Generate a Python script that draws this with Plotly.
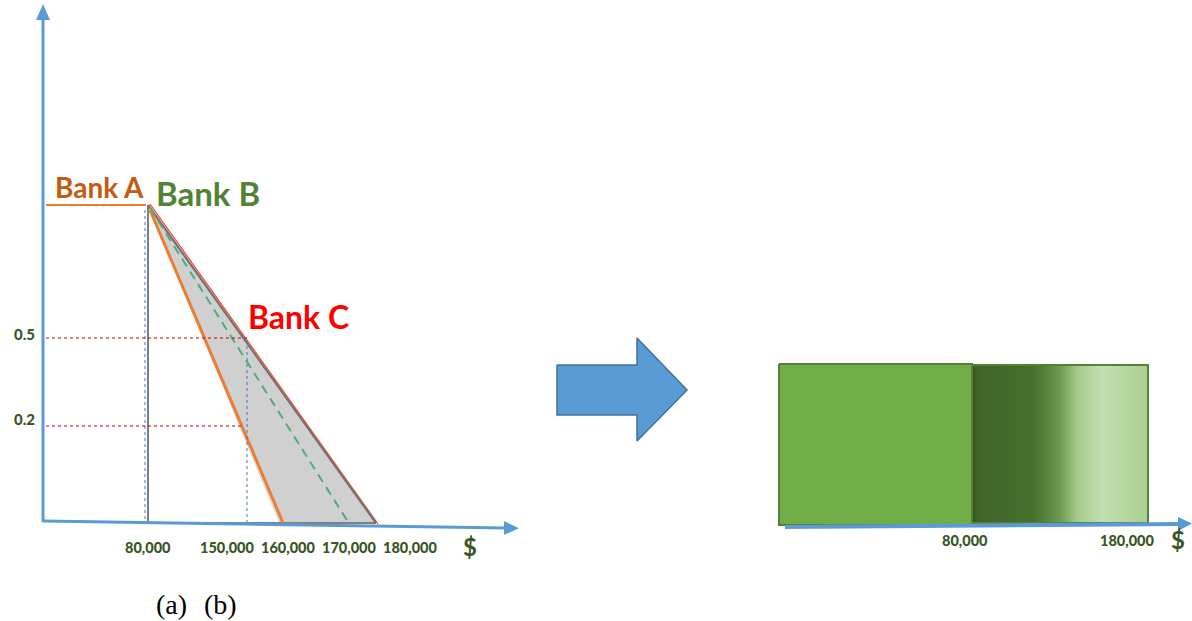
import plotly.graph_objects as go

W, H = 1192, 621

# ---------- left panel (canvas units, y grows downward) ----------
yaxis_line_x = [43, 43]
yaxis_line_y = [522, 16]
yarrow_x = [36, 50, 43, 36]
yarrow_y = [20, 20, 4, 20]
xaxis_line_x = [43, 506]
xaxis_line_y = [521, 528]
xarrow_x = [504, 519, 504, 504]
xarrow_y = [521, 528.3, 535, 521]

bank_a_flat_x = [46, 146]
bank_a_flat_y = [205, 205]
bank_a_slope_x = [150, 283]
bank_a_slope_y = [210, 523]

band_x = [148, 376, 283, 150, 148]
band_y = [205, 523, 523, 211, 205]
halo_x = [151, 279, 287, 152]
halo_y = [212, 523, 523, 212]

tri_x = [148, 148, 376]
tri_y = [205, 523, 523]
hyp_x = [148, 376]
hyp_y = [205, 523]
bank_c_x = [150, 378]
bank_c_y = [204, 524]
bank_b_x = [150, 350]
bank_b_y = [208, 525]

vdot1_x = [145, 145]
vdot1_y = [210, 522]
vdot2_x = [247, 247]
vdot2_y = [340, 522]
hdot05_x = [46, 247]
hdot05_y = [338, 338]
hdot02_x = [46, 242]
hdot02_y = [426, 426]

y_labels = ["0.5", "0.2"]
y_label_pos = [334, 419]
x_labels = ["80,000", "150,000", "160,000", "170,000", "180,000"]
x_label_pos = [148, 227, 288, 349, 410]
caption_labels = ["(a)", "(b)"]
caption_pos = [171, 220]

# ---------- middle arrow ----------
big_arrow_x = [557, 637, 637, 687, 637, 637, 557, 557]
big_arrow_y = [365, 365, 338, 390, 441, 415, 415, 365]

# ---------- right panel ----------
box1_x = [779, 972, 972, 779, 779]
box1_y = [364, 364, 525, 525, 364]
box2_x = [972, 1148, 1148, 972, 972]
box2_y = [365, 365, 523, 523, 365]
grad_stops = [0.0, 0.03, 0.35, 0.5, 0.6, 0.74, 1.0]
grad_colors = ["#33501f", "#3f6428", "#46702c", "#6d9a52", "#a6cb8c", "#c4dfb3", "#aad08f"]
raxis_line_x = [785, 1180]
raxis_line_y = [527, 524]
rarrow_x = [1178, 1192, 1178, 1178]
rarrow_y = [517, 523.5, 531, 517]
r_labels = ["80,000", "180,000"]
r_label_pos = [965, 1127]

BLUE = "#5B9BD5"
ORANGE = "#ED7D31"
GRAY = "#767171"

fig = go.Figure()


def line(x, y, color, width, dash=None, opacity=1.0):
    fig.add_trace(go.Scatter(x=x, y=y, mode="lines", hoverinfo="skip", showlegend=False,
                             opacity=opacity,
                             line=dict(color=color, width=width, dash=dash)))


def poly(x, y, fill, edge=None, ew=0, **kw):
    fig.add_trace(go.Scatter(x=x, y=y, mode="lines", fill="toself", fillcolor=fill,
                             hoverinfo="skip", showlegend=False,
                             line=dict(color=edge or fill, width=ew), **kw))


# left panel
poly(halo_x, halo_y, "rgba(195,195,195,0.6)")
poly(band_x, band_y, "#D0D0D0")
line(tri_x, tri_y, "#7F7F7F", 2)
line(bank_c_x, bank_c_y, "#FF3B1F", 1.2)
line(hyp_x, hyp_y, GRAY, 2.2)
line(bank_a_slope_x, bank_a_slope_y, ORANGE, 3)
line(bank_b_x, bank_b_y, "#4CAF7A", 2, dash="9px,6px")
line(vdot1_x, vdot1_y, "#4472C4", 1, dash="dot")
line(vdot2_x, vdot2_y, "#4472C4", 1, dash="dot")
line(hdot05_x, hdot05_y, "#C00000", 1, dash="dot")
line(hdot02_x, hdot02_y, "#C00000", 1, dash="dot")
line(bank_a_flat_x, bank_a_flat_y, ORANGE, 2)
line(yaxis_line_x, yaxis_line_y, BLUE, 3)
poly(yarrow_x, yarrow_y, BLUE)
line(xaxis_line_x, xaxis_line_y, BLUE, 3)
poly(xarrow_x, xarrow_y, BLUE)

# middle arrow
poly(big_arrow_x, big_arrow_y, BLUE, edge="#41719C", ew=1.5)

# right panel
poly(box1_x, box1_y, "#70AD47", edge="#548235", ew=2)
fig.add_trace(go.Scatter(
    x=box2_x, y=box2_y, mode="lines", fill="toself", hoverinfo="skip", showlegend=False,
    line=dict(color="#548235", width=2),
    fillgradient=dict(type="horizontal", start=box2_x[0], stop=box2_x[1],
                      colorscale=[[s, c] for s, c in zip(grad_stops, grad_colors)])))
line(raxis_line_x, raxis_line_y, BLUE, 4)
poly(rarrow_x, rarrow_y, BLUE)

LBL = dict(family="Lato", color="#375623", size=14.5, weight=900)


def text(x, y, s, font, xanchor="center"):
    fig.add_annotation(x=x, y=y, text=s, showarrow=False, xref="x", yref="y",
                       xanchor=xanchor, yanchor="middle", font=font)


text(99, 187, "Bank A", dict(family="Lato", color="#C55A11", size=28, weight="bold"))
text(208, 193, "Bank B", dict(family="Lato", color="#548235", size=33, weight="bold"))
text(298, 316, "Bank C", dict(family="Lato", color="#FF0000", size=32, weight="bold"))
for s, p in zip(y_labels, y_label_pos):
    text(24, p, s, dict(LBL, size=15))
for s, p in zip(x_labels, x_label_pos):
    text(p, 547, s, LBL)
text(470, 546, "$", dict(LBL, size=24, weight="bold"))
for s, p in zip(caption_labels, caption_pos):
    text(p, 604, s, dict(family="Liberation Serif", color="#000000", size=28))
for s, p in zip(r_labels, r_label_pos):
    text(p, 540, s, LBL)
text(1178, 539, "$", dict(LBL, size=24, weight="bold"))

fig.update_layout(
    width=W, height=H, margin=dict(l=0, r=0, t=0, b=0),
    paper_bgcolor="white", plot_bgcolor="white",
    xaxis=dict(range=[0, W], visible=False, fixedrange=True),
    yaxis=dict(range=[H, 0], visible=False, fixedrange=True),
)

fig.write_html("out.html", config={"displayModeBar": False},
               post_script="document.body.style.margin='0';document.body.style.overflow='hidden';")
